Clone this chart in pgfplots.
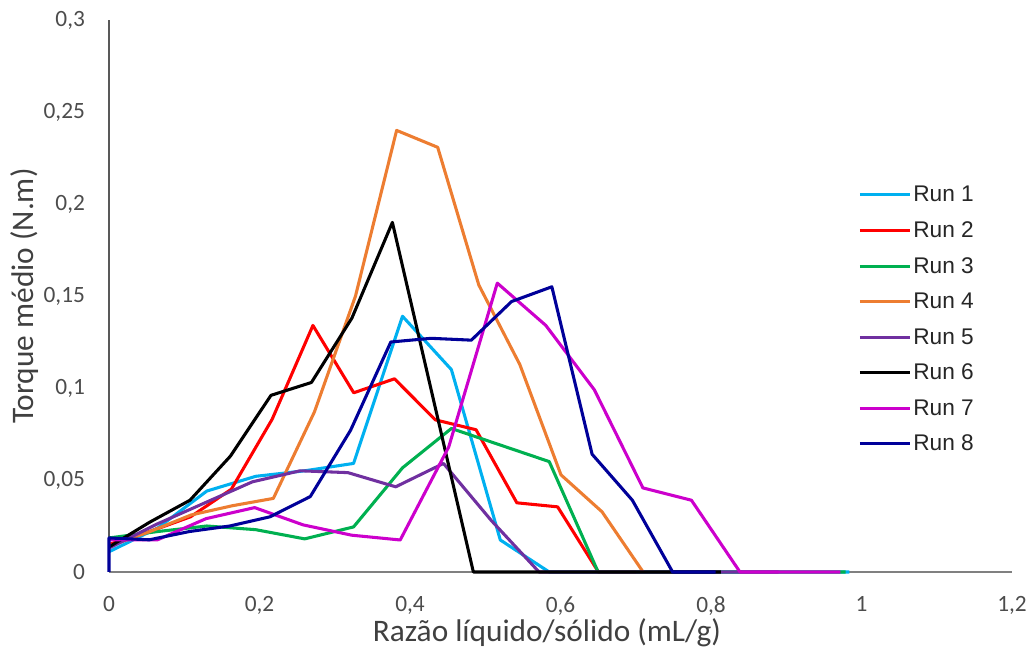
\documentclass[border=0pt]{standalone}
\usepackage{pgfplots}
\pgfplotsset{compat=1.18}
\usepackage{fontspec}
\setmainfont{Carlito}
\newfontfamily\legfont{Liberation Sans}
\definecolor{c1}{HTML}{00B0F0}
\definecolor{c2}{HTML}{FF0000}
\definecolor{c3}{HTML}{00B050}
\definecolor{c4}{HTML}{ED7D31}
\definecolor{c5}{HTML}{7030A0}
\definecolor{c6}{HTML}{000000}
\definecolor{c7}{HTML}{CC00CC}
\definecolor{c8}{HTML}{000099}
\begin{document}
\begin{tikzpicture}
\begin{axis}[
  name=ax,
  scale only axis,
  width=677.25pt, height=414pt,
  xmin=0, xmax=1.2, ymin=0, ymax=0.3,
  xtick={0,0.2,...,1.2}, ytick={0,0.05,...,0.3},
  axis x line*=bottom, axis y line*=left,
  x axis line style={draw=black!50, line width=1.4pt, -},
  y axis line style={draw=black!65, line width=0.8pt, -},
  major tick length=0pt,
  /pgf/number format/assume math mode=true,
  /pgf/number format/use comma,
  /pgf/number format/fixed,
  tick label style={font=\fontsize{17.5}{19}\selectfont, text=black!70},
  yticklabel style={xshift=-14.5pt},
  xticklabel style={yshift=-15pt},
  xlabel={Razão líquido/sólido (mL/g)},
  ylabel={Torque médio (N.m)},
  label style={font=\fontsize{23.5}{26}\selectfont, text=black!75},
  x label style={at={(axis description cs:0.485,-0.1105)}, anchor=center},
  y label style={at={(axis description cs:-0.093,0.5)}, anchor=center, rotate=0},
  clip=false,
  legend style={draw=none, fill=none, at={(axis description cs:0.825,0.708)}, anchor=north west,
    font=\legfont\fontsize{17}{19}\selectfont, text=black!85,
    row sep=10.4pt, nodes={inner sep=1.5pt}},
  legend cell align=left,
  legend image code/.code={\draw[#1] (0pt,0pt) -- (37.5pt,0pt);},
  every axis plot/.append style={line width=2.3pt, line join=round},
]
\addplot[c1] coordinates {(0,0.011) (0.065,0.024) (0.13,0.044) (0.195,0.052) (0.26,0.055) (0.325,0.059) (0.39,0.139) (0.455,0.110) (0.52,0.0174) (0.585,0) (0.984,0)};
\addlegendentry{Run 1}
\addplot[c2] coordinates {(0,0.015) (0.0542,0.022) (0.1084,0.030) (0.1626,0.045) (0.2168,0.083) (0.271,0.134) (0.3252,0.0974) (0.3794,0.105) (0.4336,0.0827) (0.4878,0.0773) (0.542,0.0376) (0.5962,0.0354) (0.6504,0) (0.70,0)};
\addlegendentry{Run 2}
\addplot[c3] coordinates {(0,0.0185) (0.065,0.022) (0.13,0.025) (0.195,0.023) (0.26,0.018) (0.325,0.0245) (0.39,0.0566) (0.455,0.078) (0.52,0.069) (0.585,0.060) (0.65,0) (0.979,0)};
\addlegendentry{Run 3}
\addplot[c4] coordinates {(0,0.014) (0.0546,0.022) (0.1092,0.031) (0.1638,0.036) (0.2184,0.040) (0.273,0.087) (0.3276,0.150) (0.3822,0.240) (0.4368,0.2308) (0.4914,0.156) (0.546,0.1127) (0.6006,0.0528) (0.6552,0.0327) (0.7098,0)};
\addlegendentry{Run 4}
\addplot[c5] coordinates {(0,0.013) (0.0635,0.026) (0.127,0.0375) (0.1905,0.049) (0.254,0.055) (0.3175,0.054) (0.381,0.0463) (0.4445,0.059) (0.508,0.028) (0.5715,0) (0.89,0)};
\addlegendentry{Run 5}
\addplot[c6] coordinates {(0,0.0136) (0.0538,0.027) (0.1076,0.039) (0.1614,0.063) (0.2152,0.096) (0.269,0.103) (0.3228,0.138) (0.3766,0.190) (0.4304,0.095) (0.4842,0) (0.813,0)};
\addlegendentry{Run 6}
\addplot[c7] coordinates {(0,0.0175) (0.0645,0.0175) (0.129,0.029) (0.1935,0.035) (0.258,0.0256) (0.3225,0.020) (0.387,0.0174) (0.4515,0.068) (0.516,0.157) (0.5805,0.134) (0.645,0.099) (0.7095,0.0457) (0.774,0.039) (0.8385,0) (0.972,0)};
\addlegendentry{Run 7}
\addplot[c8] coordinates {(0,0) (0,0.0185) (0.0535,0.0175) (0.107,0.022) (0.1605,0.025) (0.214,0.030) (0.2675,0.041) (0.321,0.077) (0.3745,0.125) (0.428,0.127) (0.4815,0.126) (0.535,0.147) (0.5885,0.155) (0.642,0.064) (0.6955,0.039) (0.749,0) (0.806,0)};
\addlegendentry{Run 8}
\end{axis}
\pgfresetboundingbox
\path (ax.south west) ++(-81.75pt,-59.25pt) coordinate (bl);
\path (ax.north east) ++(10.5pt,15pt) coordinate (tr);
\path (bl) rectangle (tr);
\end{tikzpicture}
\end{document}
